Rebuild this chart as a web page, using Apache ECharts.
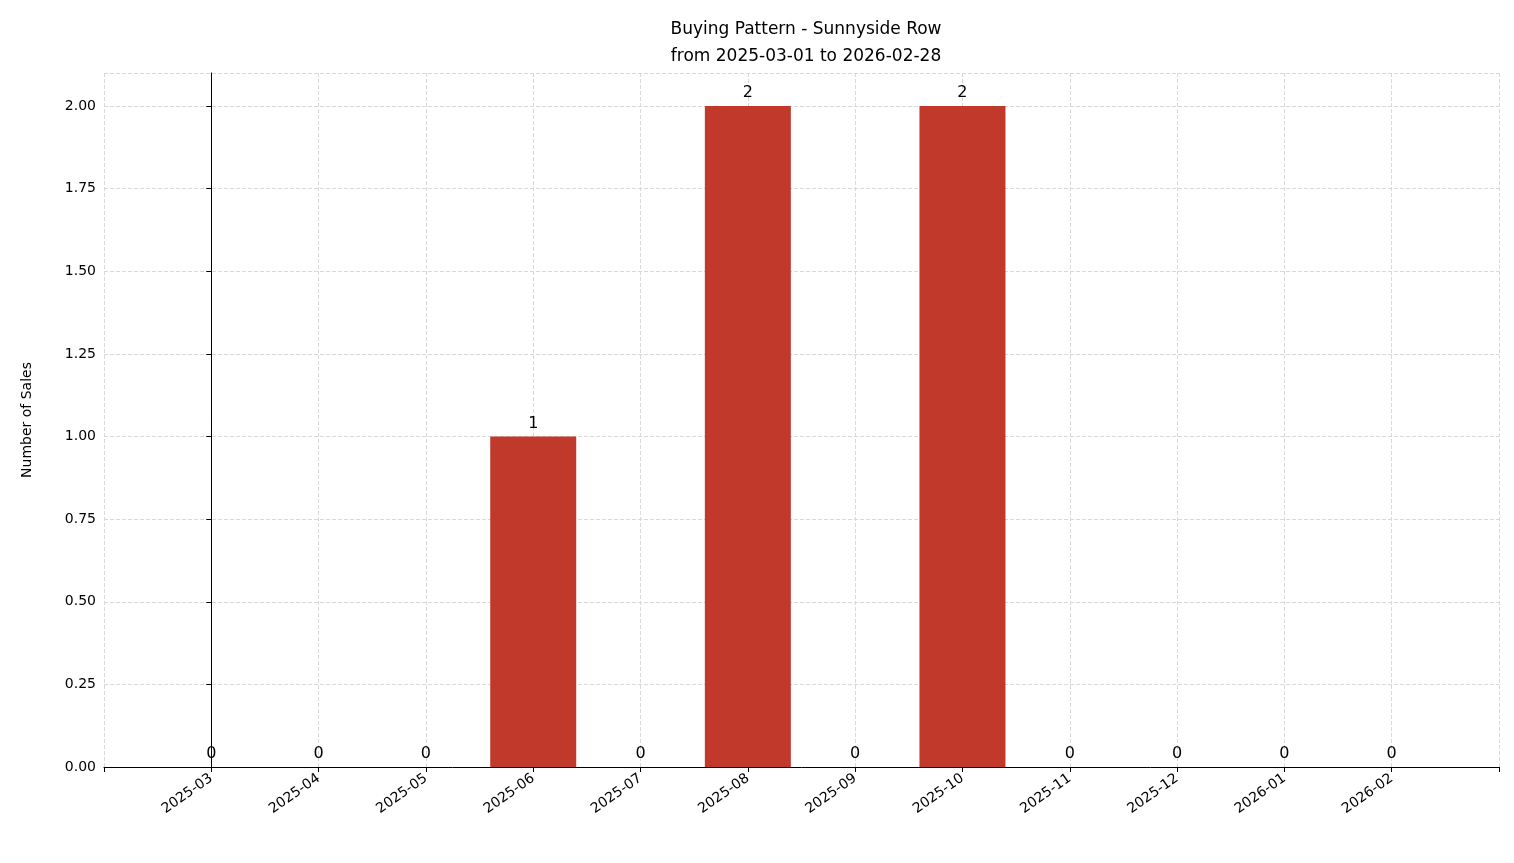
<!DOCTYPE html>
<html><head><meta charset="utf-8">
<script src="https://cdn.jsdelivr.net/npm/echarts@6/dist/echarts.min.js"></script>
<style>html,body{margin:0;background:#fff}#c{width:1514px;height:863px}</style>
</head><body><div id="c"></div>
<script>
// monthly buckets and sales counts
const months = ['2025-03','2025-04','2025-05','2025-06','2025-07','2025-08','2025-09','2025-10','2025-11','2025-12','2026-01','2026-02']
const sales = [0, 0, 0, 1, 0, 2, 0, 2, 0, 0, 0, 0]

const font = 'DejaVu Sans'
const chart = echarts.init(document.getElementById('c'))
chart.setOption({
  textStyle: { fontFamily: font },
  title: {
    text: 'Buying Pattern - Sunnyside Row\nfrom 2025-03-01 to 2026-02-28',
    left: 801, top: 11, textAlign: 'center',
    textStyle: { fontFamily: font, fontSize: 17, fontWeight: 'normal', color: '#000', lineHeight: 27 }
  },
  grid: { left: 104, right: 15, top: 73, bottom: 96, containLabel: false },
  xAxis: {
    type: 'value', min: -1, max: 12, interval: 1,
    axisLine: { lineStyle: { color: '#000' } },
    axisTick: { show: true, length: 5, lineStyle: { color: '#000' } },
    axisLabel: {
      rotate: 35, color: '#000', fontSize: 14, margin: 10,
      formatter: v => months[v] || ''
    },
    splitLine: { show: true, lineStyle: { type: 'dashed', color: '#d9d9d9' } }
  },
  yAxis: {
    type: 'value', min: 0, max: 2.1, interval: 0.25,
    name: 'Number of Sales', nameLocation: 'middle', nameGap: 70,
    nameTextStyle: { fontSize: 14, color: '#000' },
    axisLine: { show: true, lineStyle: { color: '#000' } },
    axisTick: { show: true, length: 5, lineStyle: { color: '#000' } },
    axisLabel: { color: '#000', fontSize: 14, showMaxLabel: false, formatter: v => v.toFixed(2) },
    splitLine: { lineStyle: { type: 'dashed', color: '#d9d9d9' } }
  },
  series: [{
    type: 'bar', barWidth: 86,
    data: sales.map((v, i) => [i, v]),
    itemStyle: { color: '#c0392b' },
    z: 1,
    label: { show: true, position: 'top', fontSize: 16, color: '#000', formatter: p => p.value[1] }
  }]
})
</script></body></html>
